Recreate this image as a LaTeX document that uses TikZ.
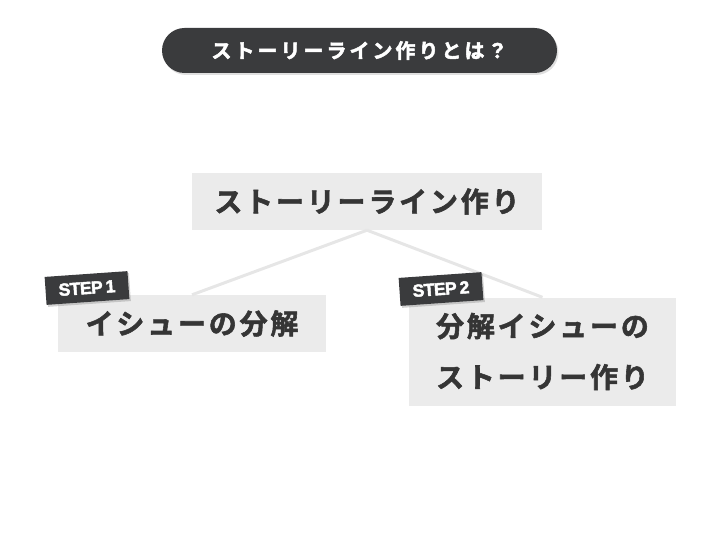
\documentclass[tikz,border=0pt]{standalone}
\usepackage{fontspec}
\setmainfont{Noto Sans CJK JP}[BoldFont={Noto Sans CJK JP Bold}]
\newfontfamily\jpbig{Noto Sans CJK JP Bold}[LetterSpace=10,FakeBold=2]
\newfontfamily\jptitle{Noto Sans CJK JP Bold}[LetterSpace=15,FakeBold=2.5]
\newfontfamily\stepfont{Liberation Sans Bold}[FakeBold=2.5,LetterSpace=-3]
\usetikzlibrary{shadows}
\definecolor{darkg}{HTML}{3A3B3D}
\definecolor{boxg}{HTML}{EBEBEB}
\definecolor{lineg}{HTML}{E6E6E6}
\definecolor{txtg}{HTML}{353535}
\tikzset{
  pill/.style={fill=darkg, text=white, minimum width=395pt, minimum height=45pt,
    rounded corners=22.5pt, inner sep=0pt,
    drop shadow={opacity=0.25, shadow xshift=1.5pt, shadow yshift=-2pt},
    font=\jptitle\fontsize{20}{22}\selectfont},
  gbox/.style={fill=boxg, text=txtg, inner sep=0pt, align=center,
    font=\jpbig\fontsize{28}{51}\selectfont},
  stepbox/.style={fill=darkg, text=white, minimum width=83pt, minimum height=28pt,
    inner sep=0pt, rotate=4,
    drop shadow={opacity=0.35, shadow xshift=1.5pt, shadow yshift=-2pt},
    font=\stepfont\fontsize{17.5}{19}\selectfont},
  conn/.style={draw=lineg, line width=3pt}
}
\begin{document}
\begin{tikzpicture}[x=1pt,y=-1pt]
\useasboundingbox (0,0) rectangle (720,540);
\node[pill] (title) at (359.5,50.5) {ストーリーライン作りとは？};
\node[gbox, minimum width=350pt, minimum height=57pt] (main) at (367,201.5) {ストーリーライン作り};
\node[gbox, minimum width=268pt, minimum height=57pt] (left) at (192,323.5) {イシューの分解};
\node[gbox, minimum width=267pt, minimum height=108pt] (right) at (542.5,351.5) {分解イシューの\\ストーリー作り};
\draw[conn] (main.south) -- (left.north);
\draw[conn] (main.south) -- (right.north);
\node[stepbox] (s1) at (87,288) {STEP\,1};
\node[stepbox] (s2) at (441,289) {STEP\,2};
\end{tikzpicture}
\end{document}
